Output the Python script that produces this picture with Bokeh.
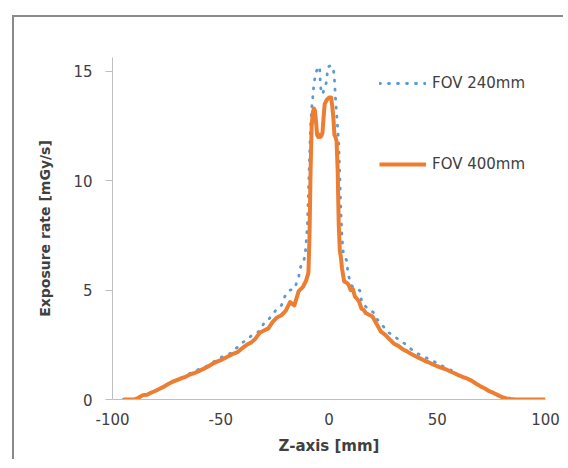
from bokeh.plotting import figure
from bokeh.models import Legend, LegendItem, Range1d, FixedTicker, Spacer
from bokeh.layouts import column, row
from bokeh.embed import file_html
from bokeh.resources import INLINE

series_names = ["FOV 240mm", "FOV 400mm"]
x_ticks = [-100, -50, 0, 50, 100]
x_tick_labels = ["-100", "-50", "0", "50", "100"]
y_ticks = [0, 5, 10, 15]

# FOV 240mm (dotted blue)
z_240 = [-95, -90, -88, -86, -84, -82, -80, -78, -76, -74, -72, -70, -68, -66, -64, -62,
         -60, -58, -56, -54, -52, -50, -48, -46, -44, -42, -40, -38, -36, -34, -32, -30,
         -28, -26, -24, -22, -20, -18, -16, -14, -13, -12, -11, -10, -9.5, -9, -8.5, -8,
         -7.5, -7, -6.5, -6, -5, -4.3, -4, -3.5, -3, -2.5, -2, -1.2, -0.5, 0.5, 1.9, 2.4,
         2.7, 3.1, 3.5, 4, 4.5, 5, 5.5, 6, 6.6, 7.5, 8.1, 8.9, 10.4, 12, 14.3, 15.1, 16.6,
         18, 20.5, 22, 24, 26, 27.5, 30, 32.9, 35, 37, 39.8, 42, 44, 46, 48, 50, 52.2, 54,
         56, 58, 60, 61.5, 64, 66, 68, 70, 72, 74, 76, 78, 80, 82, 84, 86, 100]
v_240 = [0, 0, 0.08, 0.2, 0.24, 0.34, 0.42, 0.52, 0.62, 0.74, 0.84, 0.93, 1.0, 1.1, 1.2, 1.3,
         1.38, 1.46, 1.55, 1.68, 1.8, 1.92, 2.0, 2.08, 2.28, 2.4, 2.6, 2.72, 2.9, 3.0, 3.14, 3.5,
         3.65, 3.9, 4.15, 4.3, 4.8, 5.0, 5.05, 5.6, 6.1, 6.2, 6.6, 7.9, 9.4, 11.0, 12.5, 13.3,
         13.8, 14.4, 14.7, 14.95, 15.2, 15.2, 14.4, 14.0, 13.95, 14.1, 14.2, 14.5, 15.2, 15.25, 15.2, 14.8,
         14.3, 13.6, 13.1, 12.4, 11.7, 10.2, 8.6, 7.4, 6.7, 6.5, 6.35, 5.7, 5.2, 5.1, 4.97, 4.45, 4.28,
         4.15, 3.98, 3.7, 3.45, 3.25, 3.06, 2.9, 2.68, 2.55, 2.38, 2.15, 2.05, 1.95, 1.85, 1.76, 1.65, 1.54, 1.45,
         1.36, 1.25, 1.1, 1.0, 0.95, 0.86, 0.73, 0.61, 0.5, 0.38, 0.3, 0.2, 0.1, 0.05, 0.02, 0, 0]

# FOV 400mm (solid orange)
z_400 = [-95, -90, -88, -86, -84, -82, -80, -78, -76, -74, -72, -70, -68, -66, -64, -62,
         -60, -58, -56, -54, -52, -50, -48, -46, -44, -42, -40, -38, -36, -34, -32, -30,
         -28, -26, -24, -22, -20, -18, -16, -14, -12, -10.5, -9.5, -9, -8.5, -8, -7.5, -7,
         -6.5, -6, -5.5, -5, -4.5, -4, -3.5, -3, -2.5, -2, -1.5, -1, 0, 1, 1.5, 2, 2.5, 3,
         3.5, 4, 4.5, 5, 5.5, 6, 7, 8, 9, 10, 11, 12, 13, 14, 15, 16, 17, 18, 19, 20, 22, 24,
         26, 28, 30, 32, 34, 36, 38, 40, 42, 44, 46, 48, 50, 52, 54, 56, 58, 60, 62, 64, 66,
         68, 70, 72, 74, 76, 78, 80, 82, 84, 86, 90, 95, 100]
v_400 = [0, 0, 0.08, 0.2, 0.22, 0.32, 0.4, 0.5, 0.6, 0.72, 0.82, 0.9, 0.98, 1.05, 1.15, 1.22,
         1.3, 1.4, 1.5, 1.62, 1.72, 1.8, 1.9, 2.0, 2.1, 2.18, 2.35, 2.5, 2.6, 2.78, 3.05, 3.15,
         3.25, 3.55, 3.75, 3.85, 4.05, 4.45, 4.3, 4.95, 5.15, 5.45, 5.8, 7.5, 10.5, 12.5, 13.1, 13.3,
         13.2, 12.7, 12.1, 12.0, 12.1, 12.0, 12.05, 12.2, 12.9, 13.5, 13.6, 13.7, 13.8, 13.8, 13.4, 12.9, 12.1, 12.0,
         11.8, 10.5, 8.0, 6.8, 6.5, 6.0, 5.4, 5.35, 5.25, 5.0, 5.05, 4.7, 4.6, 4.45, 4.15, 4.1, 3.95, 3.9, 3.85, 3.8, 3.45, 3.1,
         2.95, 2.75, 2.55, 2.45, 2.3, 2.2, 2.08, 1.98, 1.88, 1.78, 1.7, 1.6, 1.52, 1.45, 1.38, 1.28, 1.2, 1.1, 1.02, 0.95, 0.85,
         0.72, 0.6, 0.5, 0.38, 0.3, 0.2, 0.1, 0.05, 0.02, 0, 0, 0, 0]

TEXT = "#404040"
FONT = "DejaVu Sans"

p = figure(frame_width=431, frame_height=340, output_backend="svg", toolbar_location=None,
           x_range=Range1d(-100, 100), y_range=Range1d(0, 15.63),
           min_border_left=98, min_border_right=20, min_border_top=40, min_border_bottom=62)
p.styles = {"border-top": "2px solid #8a8a8a", "border-left": "2px solid #8a8a8a"}
p.outline_line_color = None
p.xgrid.grid_line_color = None
p.ygrid.grid_line_color = None

r240 = p.line(z_240, v_240, line_color="#5b9bd5", line_width=2.8, line_dash="1 8",
              line_cap="round", line_join="round")
r400 = p.line(z_400, v_400, line_color="#ed7d31", line_width=4, line_join="round")

xa = p.xaxis[0]
xa.ticker = FixedTicker(ticks=x_ticks)
xa.major_label_overrides = dict(zip(x_ticks, x_tick_labels))
xa.axis_line_color = "#bfbfbf"
xa.major_tick_out = 0
xa.major_tick_in = 0
xa.minor_tick_line_color = None
xa.major_label_text_font = FONT
xa.major_label_text_font_size = "15px"
xa.major_label_text_color = TEXT
xa.major_label_standoff = 13
xa.axis_label = "Z-axis [mm]"
xa.axis_label_text_font = FONT
xa.axis_label_text_font_size = "15px"
xa.axis_label_text_font_style = "bold"
xa.axis_label_text_color = TEXT
xa.axis_label_standoff = 9

ya = p.yaxis[0]
ya.ticker = FixedTicker(ticks=y_ticks)
ya.axis_line_color = "#bfbfbf"
ya.major_tick_line_color = "#bfbfbf"
ya.major_tick_out = 7
ya.major_tick_in = 0
ya.minor_tick_line_color = None
ya.major_label_text_font = FONT
ya.major_label_text_font_size = "15px"
ya.major_label_text_color = TEXT
ya.major_label_standoff = 13
ya.axis_label = "Exposure rate [mGy/s]"
ya.axis_label_text_font = FONT
ya.axis_label_text_font_size = "14px"
ya.axis_label_text_font_style = "bold"
ya.axis_label_text_color = TEXT
ya.axis_label_standoff = 17

legend = Legend(items=[LegendItem(label=series_names[0], renderers=[r240]),
                       LegendItem(label=series_names[1], renderers=[r400])],
                location=(267, 225))
legend.margin = 0
legend.padding = 0
legend.border_line_color = None
legend.background_fill_alpha = 0
legend.glyph_width = 47
legend.glyph_height = 20
legend.label_height = 20
legend.label_standoff = 6
legend.spacing = 61
legend.label_text_font = FONT
legend.label_text_font_size = "15px"
legend.label_text_color = TEXT
p.add_layout(legend)

layout = column(Spacer(height=15), row(Spacer(width=12), p))
open("out.html", "w").write(file_html(layout, INLINE))
